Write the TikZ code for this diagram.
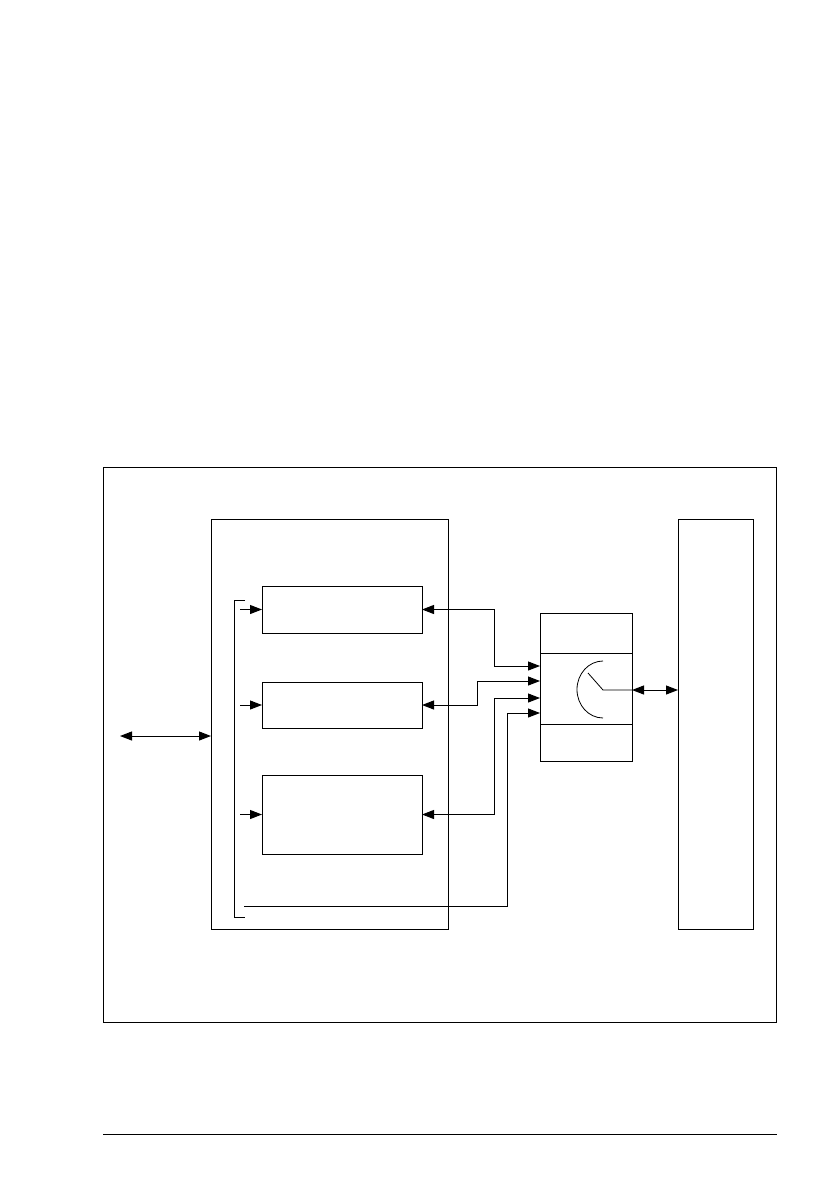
\documentclass[tikz,border=0pt]{standalone}
\usetikzlibrary{arrows.meta}
\begin{document}
\begin{tikzpicture}[x=1pt,y=-1pt,
  box/.style={draw,line width=1pt,inner sep=0pt,outer sep=0pt,rectangle},
  ln/.style={line width=1pt},
  tip/.style={-{Triangle[length=12pt,width=9pt]}},
  dtip/.style={{Triangle[length=12pt,width=9pt]}-{Triangle[length=12pt,width=9pt]}},
  fine/.style={line width=0.8pt}]
\useasboundingbox (0,0) rectangle (838,1192);
% frames
\node[box,minimum width=673pt,minimum height=555pt] (F) at (439.5,744.5) {};
\node[box,minimum width=237pt,minimum height=410pt] (L) at (329.5,724) {};
\node[box,minimum width=75pt,minimum height=410pt] (R) at (715.5,724) {};
\node[box,minimum width=160pt,minimum height=47pt] (b1) at (342,609.5) {};
\node[box,minimum width=160pt,minimum height=46pt] (b2) at (342,705) {};
\node[box,minimum width=160pt,minimum height=79pt] (b3) at (342,814.5) {};
\node[box,minimum width=92pt,minimum height=148pt] (S) at (586,687) {};
\draw[ln] (S.west |- 0,653) -- (S.east |- 0,653);
\draw[ln] (S.west |- 0,724) -- (S.east |- 0,724);
% gauge
\draw[fine] (603,661) arc[start angle=90,end angle=270,x radius=26pt,y radius=28.5pt];
\coordinate (g) at (S.east |- 0,690);
\draw[fine] (588,673) -- (603,690) -- (g);
\draw[ln,dtip] (g) -- (R.west |- g);
% left external
\coordinate (ext) at (120,736);
\draw[ln,dtip] (ext) -- (L.west |- ext);
% bracket
\coordinate (bt) at (245,600);
\coordinate (bb) at (245,917);
\draw[ln] (bt) -- (234,600) -- (234,917) -- (bb);
\draw[ln,tip] (240,0 |- b1.west) -- (b1.west);
\draw[ln,tip] (240,0 |- b2.west) -- (b2.west);
\draw[ln,tip] (240,0 |- b3.west) -- (b3.west);
% switch inputs
\coordinate (s1) at (S.west |- 0,666);
\coordinate (s2) at (S.west |- 0,681);
\coordinate (s3) at (S.west |- 0,698);
\coordinate (s4) at (S.west |- 0,713);
\draw[ln,dtip] (b1.east) -| (494,666) -- (s1);
\draw[ln,dtip] (b2.east) -| (477,681) -- (s2);
\draw[ln,dtip] (b3.east) -| (494,698) -- (s3);
\coordinate (t4) at (244,906);
\draw[ln,tip] (t4) -| (507,713) -- (s4);
% footer
\coordinate (fl) at (103,1134);
\coordinate (fr) at (777,1134);
\draw[ln] (fl) -- (fr);
\end{tikzpicture}
\end{document}
